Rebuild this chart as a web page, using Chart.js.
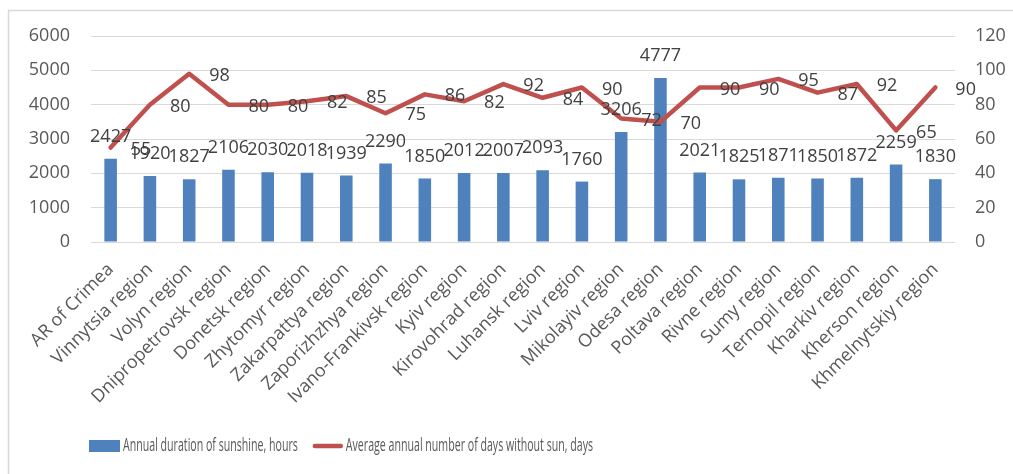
<!DOCTYPE html>
<html>
<head>
<meta charset="utf-8">
<script src="https://cdn.jsdelivr.net/npm/chart.js@4/dist/chart.umd.min.js"></script>
<style>
  html, body { margin:0; padding:0; background:#fff; }
  #wrap { width:1013px; height:474px; position:relative; }
</style>
</head>
<body>
<div id="wrap"><canvas id="sunChart"></canvas></div>
<script>
// regions of Ukraine
const regions = ['AR of Crimea','Vinnytsia region','Volyn region','Dnipropetrovsk region','Donetsk region','Zhytomyr region','Zakarpattya region','Zaporizhzhya region','Ivano-Frankivsk region','Kyiv region','Kirovohrad region','Luhansk region','Lviv region','Mikolayiv region','Odesa region','Poltava region','Rivne region','Sumy region','Ternopil region','Kharkiv region','Kherson region','Khmelnytskiy region'];
// annual duration of sunshine, hours (left axis)
const sunshineHours = [2427,1920,1827,2106,2030,2018,1939,2290,1850,2012,2007,2093,1760,3206,4777,2021,1825,1871,1850,1872,2259,1830];
// average annual number of days without sun (right axis)
const daysWithoutSun = [55,80,98,80,80,82,85,75,86,82,92,84,90,72,70,90,90,95,87,92,65,90];

const hoursTicks = [0,1000,2000,3000,4000,5000,6000];
const daysTicks = [0,20,40,60,80,100,120];

const FONT = '"Open Sans", "DejaVu Sans", sans-serif';
const BLUE = '#4f81bd', RED = '#c0504d';

// light frame round the chart
const frame = {
  id:'frame',
  beforeDraw(chart){
    const c = chart.ctx; c.save();
    c.strokeStyle = '#d9d9d9'; c.lineWidth = 1.5;
    c.strokeRect(8.5, 10.5, 2000, 2000);
    c.restore();
  }
};

// numbers next to bars and line
const valueLabels = {
  id:'valueLabels',
  afterDatasetsDraw(chart){
    const c = chart.ctx; c.save();
    c.font = '18px ' + FONT; c.fillStyle = '#404040'; c.textBaseline = 'middle';
    c.textAlign = 'center';
    chart.getDatasetMeta(0).data.forEach((b,i)=> c.fillText(sunshineHours[i], b.x, b.y - 22));
    c.textAlign = 'left';
    chart.getDatasetMeta(1).data.forEach((p,i)=> c.fillText(daysWithoutSun[i], p.x + 20, p.y + 2));
    c.restore();
  }
};

// legend row, narrow text like the original
const legendRow = {
  id:'legendRow',
  afterDraw(chart){
    const c = chart.ctx, sx = 0.59, y = 446;
    let x = 89;
    c.save();
    c.font = '18px ' + FONT; c.textBaseline = 'middle'; c.textAlign = 'left';
    chart.data.datasets.forEach((ds,i)=>{
      if(ds.type === 'bar'){ c.fillStyle = BLUE; c.fillRect(x, y - 6, 31, 12); x += 31; }
      else { c.strokeStyle = RED; c.lineWidth = 4.5; c.lineCap = 'round';
        c.beginPath(); c.moveTo(x + 2, y); c.lineTo(x + 28, y); c.stroke(); x += 30; }
      x += 3;
      c.fillStyle = '#595959';
      c.save(); c.translate(x, y); c.scale(sx, 1); c.fillText(ds.label, 0, 0); c.restore();
      x += c.measureText(ds.label).width * sx + 15;
    });
    c.restore();
  }
};

Chart.defaults.color = '#595959';
Chart.defaults.font.family = FONT;

new Chart(document.getElementById('sunChart').getContext('2d'), {
  data:{
    labels: regions,
    datasets:[
      { type:'bar', label:'Annual duration of sunshine, hours', data: sunshineHours, yAxisID:'y',
        backgroundColor:BLUE, borderWidth:0, categoryPercentage:1, barPercentage:0.32, order:1 },
      { type:'line', label:'Average annual number of days without sun, days', data: daysWithoutSun, yAxisID:'y1',
        borderColor:RED, backgroundColor:RED, borderWidth:4.5, pointRadius:0, tension:0,
        borderJoinStyle:'round', borderCapStyle:'round', order:0 }
    ]
  },
  options:{
    responsive:true, maintainAspectRatio:false, animation:false,
    layout:{ padding:{ top:36, left:0, right:0, bottom:46 } },
    plugins:{ tooltip:{ enabled:false }, legend:{ display:false } },
    scales:{
      x:{ grid:{ display:false, drawTicks:false }, border:{ display:false },
        ticks:{ maxRotation:45, minRotation:45, autoSkip:false, padding:17, font:{ size:18 }, color:'#595959' },
        afterFit: s => { s.height = 186; } },
      y:{ position:'left', min:0, max:6000, border:{ display:false },
        grid:{ color:'#d9d9d9', drawTicks:false },
        afterBuildTicks: s => { s.ticks = hoursTicks.map(v=>({value:v})); },
        ticks:{ padding:21, font:{ size:18 }, color:'#595959', callback: v => String(v) },
        afterFit: s => { s.width = 91; } },
      y1:{ position:'right', min:0, max:120, border:{ display:false },
        grid:{ drawOnChartArea:false, drawTicks:false },
        afterBuildTicks: s => { s.ticks = daysTicks.map(v=>({value:v})); },
        ticks:{ padding:20, font:{ size:18 }, color:'#595959', callback: v => String(v) },
        afterFit: s => { s.width = 58; } }
    }
  },
  plugins:[frame, valueLabels, legendRow]
});
</script>
</body>
</html>
